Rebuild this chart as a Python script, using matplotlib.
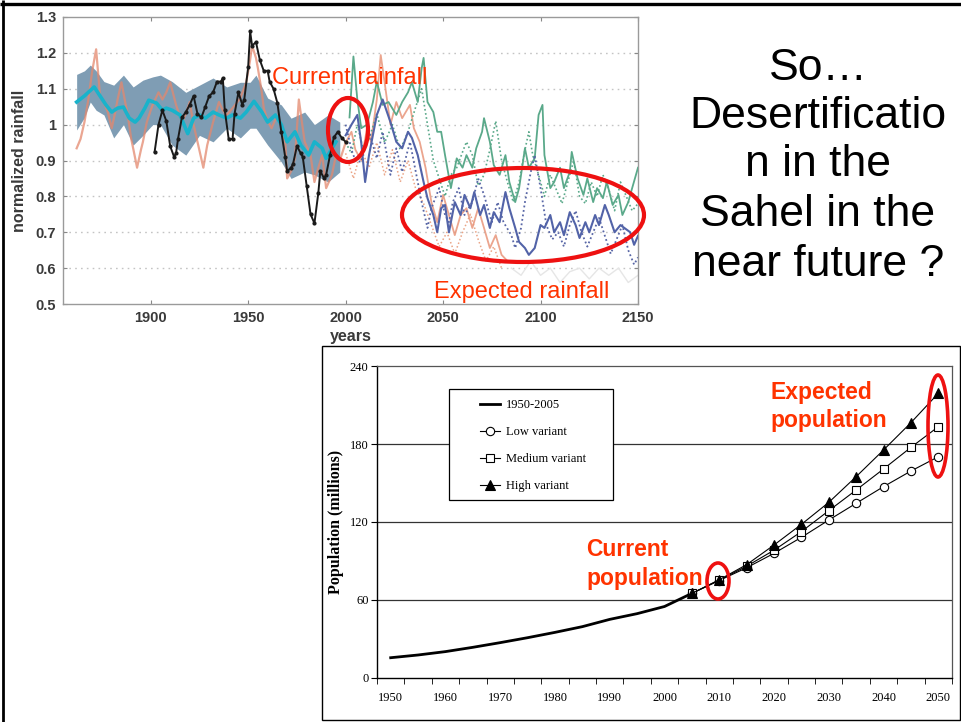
import numpy as np
import matplotlib
matplotlib.use("Agg")
import matplotlib.pyplot as plt
from matplotlib.patches import Ellipse, Rectangle

# ---------------- rainfall chart data ----------------
band_years = [1862, 1866, 1869, 1872, 1876, 1881, 1886, 1891, 1896, 1901, 1905, 1911,
              1918, 1925, 1932, 1939, 1946, 1951, 1954, 1960, 1967, 1972, 1979, 1984,
              1991, 1997]
band_upper = [1.14, 1.15, 1.166, 1.15, 1.12, 1.11, 1.138, 1.105, 1.124, 1.133, 1.138, 1.12,
              1.09, 1.11, 1.13, 1.105, 1.118, 1.118, 1.138, 1.074, 1.055, 1.018, 1.035, 1.0,
              1.027, 1.007]
band_lower = [0.985, 1.02, 1.063, 1.04, 1.027, 0.963, 1.0, 0.943, 0.97, 1.0, 1.0, 0.943,
              0.915, 0.97, 0.952, 0.99, 0.963, 0.99, 0.99, 0.943, 0.896, 0.85, 0.868, 0.86,
              0.84, 0.868]

mean_years = [1862, 1866, 1871, 1874, 1877, 1880, 1883, 1886, 1889, 1892, 1894, 1897, 1899,
              1903, 1906, 1908, 1911, 1915, 1919, 1922, 1925, 1928, 1932, 1935, 1939, 1942,
              1946, 1949, 1953, 1957, 1960, 1964, 1967, 1970, 1974, 1977, 1981, 1984, 1988,
              1990, 1993, 1995]
mean_vals = [1.063, 1.08, 1.105, 1.08, 1.055, 1.035, 1.046, 1.049, 1.018, 1.007, 1.018, 1.046,
             1.068, 1.06, 1.04, 1.046, 1.04, 1.027, 0.975, 1.018, 1.027, 1.018, 1.035, 1.027,
             1.018, 1.027, 1.018, 1.035, 1.065, 1.035, 1.007, 1.027, 1.0, 0.952, 0.98, 0.943,
             0.915, 0.952, 0.934, 0.906, 0.934, 0.952]

obs_years = [1902, 1904, 1906, 1908, 1910, 1912, 1913, 1914, 1916, 1918, 1920, 1922, 1924,
             1926, 1928, 1930, 1932, 1934, 1936, 1937, 1938, 1940, 1942, 1943, 1945, 1947,
             1948, 1950, 1951, 1952, 1954, 1956, 1958, 1960, 1961, 1963, 1965, 1967, 1969,
             1970, 1972, 1973, 1975, 1977, 1978, 1980, 1982, 1984, 1986, 1987, 1989, 1990,
             1992, 1994, 1996, 1998, 2000]
obs_vals = [0.924, 1.0, 1.04, 1.01, 0.94, 0.91, 0.92, 0.96, 1.02, 1.035, 1.055, 1.08, 1.03,
            1.02, 1.05, 1.08, 1.09, 1.12, 1.12, 1.13, 1.04, 0.96, 0.96, 1.03, 1.09, 1.055,
            1.07, 1.16, 1.26, 1.22, 1.23, 1.18, 1.15, 1.15, 1.12, 1.10, 1.06, 0.98, 0.91,
            0.87, 0.88, 0.89, 0.94, 0.92, 0.91, 0.83, 0.75, 0.725, 0.81, 0.87, 0.85, 0.86,
            0.915, 0.965, 0.98, 0.963, 0.952]

hsim_years = [1862, 1864, 1866, 1868, 1870, 1872, 1874, 1876, 1878, 1880, 1882, 1883, 1885,
              1887, 1888, 1890, 1891, 1893, 1895, 1896, 1898, 1900, 1901, 1904, 1906, 1908,
              1910, 1913, 1916, 1918, 1920, 1922, 1924, 1927, 1929, 1932, 1935, 1937, 1939,
              1942, 1946, 1949, 1951, 1952, 1954, 1955, 1957, 1958, 1960, 1962, 1965, 1967,
              1969, 1970, 1972, 1974, 1976, 1978, 1979, 1982, 1984, 1986, 1988, 1990, 1993,
              1995, 1997, 2000]
hsim_vals = [0.934, 0.96, 1.007, 1.07, 1.15, 1.21, 1.08, 1.06, 1.035, 0.99, 1.04, 1.07, 1.118,
             1.06, 1.035, 0.96, 0.934, 0.88, 0.93, 0.952, 1.007, 1.04, 1.055, 1.09, 1.07, 1.09,
             1.118, 1.055, 1.007, 1.03, 1.063, 1.0, 0.952, 0.88, 0.943, 1.007, 1.063, 1.04,
             1.027, 1.046, 1.074, 1.118, 1.18, 1.22, 1.186, 1.157, 1.09, 1.046, 1.01, 0.99,
             1.027, 0.99, 0.952, 0.85, 0.87, 0.906, 1.07, 0.99, 0.952, 0.915, 0.84, 0.88,
             0.915, 0.823, 0.86, 0.915, 0.9, 0.95]

green_years = [2002, 2004, 2006, 2008, 2011, 2014, 2016, 2019, 2022, 2026, 2029, 2032, 2034,
               2037, 2039, 2040, 2042, 2045, 2047, 2049, 2051, 2054, 2057, 2060, 2062, 2065,
               2067, 2070, 2071, 2074, 2076, 2079, 2082, 2084, 2087, 2089, 2092, 2094, 2097,
               2099, 2101, 2102, 2105, 2107, 2110, 2112, 2115, 2116, 2119, 2122, 2124, 2127,
               2129, 2132, 2134, 2137, 2140, 2142, 2145, 2147, 2150]
green_vals = [1.02, 1.19, 1.07, 0.99, 1.0, 1.063, 1.12, 1.055, 1.063, 1.027, 1.063, 1.09,
              1.118, 1.063, 1.157, 1.186, 1.063, 1.035, 0.98, 0.98, 0.915, 0.823, 0.906, 0.88,
              0.915, 0.88, 0.934, 0.98, 1.018, 0.952, 0.887, 0.86, 0.915, 0.84, 0.784, 0.823,
              0.934, 0.88, 0.906, 1.027, 1.055, 0.915, 0.823, 0.84, 0.88, 0.823, 0.868, 0.924,
              0.85, 0.804, 0.85, 0.784, 0.823, 0.795, 0.84, 0.776, 0.804, 0.748, 0.784, 0.823,
              0.88]

blue_years = [2000, 2003, 2006, 2008, 2010, 2012, 2016, 2019, 2023, 2026, 2029, 2032, 2034,
              2037, 2040, 2042, 2045, 2047, 2049, 2051, 2053, 2056, 2059, 2061, 2064, 2066,
              2069, 2071, 2074, 2076, 2079, 2082, 2084, 2087, 2089, 2092, 2094, 2097, 2100,
              2102, 2105, 2107, 2110, 2112, 2115, 2118, 2120, 2123, 2125, 2128, 2130, 2133,
              2135, 2138, 2141, 2143, 2146, 2148, 2150]
blue_vals = [0.97, 1.0, 1.027, 0.95, 0.84, 0.915, 1.027, 1.07, 1.007, 0.952, 0.934, 0.98,
             0.963, 0.915, 0.84, 0.795, 0.748, 0.7, 0.767, 0.776, 0.7, 0.784, 0.748, 0.804,
             0.767, 0.812, 0.748, 0.776, 0.712, 0.756, 0.728, 0.812, 0.767, 0.712, 0.673,
             0.656, 0.637, 0.656, 0.72, 0.712, 0.748, 0.7, 0.728, 0.692, 0.756, 0.72, 0.684,
             0.728, 0.7, 0.748, 0.72, 0.776, 0.748, 0.7, 0.72, 0.712, 0.7, 0.665, 0.69]

bluedot_years = [2000, 2003, 2005, 2008, 2012, 2016, 2019, 2023, 2026, 2029, 2033, 2036,
                 2039, 2042, 2044, 2048, 2051, 2053, 2055, 2058, 2061, 2065, 2068, 2071,
                 2075, 2078, 2081, 2085, 2087, 2090, 2092, 2095, 2097, 2100, 2103, 2106,
                 2109, 2112, 2115, 2118, 2121, 2124, 2127, 2130, 2133, 2136, 2139, 2142,
                 2145, 2148, 2150]
bluedot_vals = [1.0, 0.93, 0.90, 0.896, 0.98, 0.906, 0.98, 0.86, 0.934, 0.868, 0.952, 0.868,
                0.784, 0.712, 0.767, 0.823, 0.748, 0.728, 0.784, 0.823, 0.748, 0.784, 0.85,
                0.804, 0.728, 0.784, 0.728, 0.692, 0.656, 0.712, 0.784, 0.868, 0.915, 0.823,
                0.72, 0.68, 0.7, 0.66, 0.72, 0.76, 0.70, 0.66, 0.70, 0.74, 0.69, 0.64, 0.68,
                0.72, 0.65, 0.61, 0.63]

greendot_years = [2000, 2003, 2006, 2009, 2012, 2016, 2020, 2024, 2028, 2032, 2036, 2039,
                  2042, 2045, 2048, 2051, 2054, 2057, 2060, 2062, 2065, 2068, 2071, 2074,
                  2077, 2080, 2083, 2086, 2089, 2092, 2094, 2096, 2099, 2102, 2105, 2108,
                  2111, 2114, 2117, 2120, 2123, 2126, 2129, 2132, 2135, 2138, 2141, 2144,
                  2147, 2150]
greendot_vals = [0.95, 0.92, 1.0, 0.93, 0.96, 1.03, 0.95, 1.0, 0.93, 0.98, 1.05, 1.10, 1.0,
                 0.9, 0.85, 0.8, 0.86, 0.88, 0.924, 0.952, 0.915, 0.83, 0.86, 0.93, 1.01, 0.9,
                 0.84, 0.784, 0.84, 0.93, 0.98, 0.915, 0.86, 0.8, 0.86, 0.82, 0.78, 0.84, 0.9,
                 0.8, 0.78, 0.84, 0.8, 0.86, 0.82, 0.76, 0.84, 0.8, 0.76, 0.78]

salmon_years = [2000, 2003, 2005, 2008, 2011, 2013, 2016, 2018, 2020, 2023, 2026, 2029, 2033,
                2035, 2038, 2041, 2044, 2047, 2050, 2053, 2056, 2059, 2062, 2065, 2068, 2071,
                2074, 2077, 2080, 2083]
salmon_vals = [0.95, 0.98, 0.93, 0.90, 0.99, 0.952, 1.07, 1.194, 1.118, 1.0, 1.063, 1.018,
               1.055, 0.99, 0.952, 0.88, 0.784, 0.728, 0.804, 0.748, 0.692, 0.748, 0.767,
               0.712, 0.767, 0.712, 0.656, 0.692, 0.637, 0.62]

salmondot_years = [2000, 2004, 2008, 2012, 2016, 2020, 2024, 2028, 2032, 2036, 2040, 2044,
                   2048, 2052, 2056, 2060, 2064, 2068, 2072, 2076, 2080]
salmondot_vals = [0.92, 0.85, 0.93, 0.88, 0.95, 0.86, 0.93, 0.84, 0.9, 0.82, 0.78, 0.72,
                  0.66, 0.7, 0.64, 0.7, 0.75, 0.68, 0.62, 0.66, 0.6]

gray_years = [2085, 2090, 2095, 2100, 2105, 2110, 2115, 2120, 2125, 2130, 2135, 2140, 2145,
              2150]
gray_vals = [0.6, 0.58, 0.62, 0.58, 0.6, 0.56, 0.59, 0.6, 0.57, 0.6, 0.58, 0.6, 0.56, 0.58]

rain_xticks = [1900, 1950, 2000, 2050, 2100, 2150]
rain_yticks = [0.5, 0.6, 0.7, 0.8, 0.9, 1.0, 1.1, 1.2, 1.3]
rain_yticklabels = ["0.5", "0.6", "0.7", "0.8", "0.9", "1", "1.1", "1.2", "1.3"]

# ---------------- population chart data ----------------
hist_years = [1950, 1955, 1960, 1965, 1970, 1975, 1980, 1985, 1990, 1995, 2000, 2005]
hist_pop = [15.6, 17.7, 20.3, 23.6, 27.2, 31.0, 35.1, 39.5, 45.1, 49.5, 55.0, 65.1]
proj_years = [2005, 2010, 2015, 2020, 2025, 2030, 2035, 2040, 2045, 2050]
low_pop = [65.1, 75.0, 84.8, 95.9, 108.2, 121.5, 134.4, 147.2, 159.2, 170.2]
med_pop = [65.1, 75.3, 86.0, 98.3, 112.6, 128.7, 144.6, 160.8, 177.4, 193.3]
high_pop = [65.1, 75.6, 87.2, 102.3, 118.2, 135.1, 154.9, 175.4, 196.4, 219.0]
pop_xticks = [1950, 1960, 1970, 1980, 1990, 2000, 2010, 2020, 2030, 2040, 2050]
pop_yticks = [0, 60, 120, 180, 240]
legend_labels = ["1950-2005", "Low variant", "Medium variant", "High variant"]

# ---------------- figure ----------------
W, H = 961, 722
fig = plt.figure(figsize=(W / 100, H / 100), dpi=100)
fig.patch.set_facecolor("white")

def fbox(x0, y0, x1, y1):
    return [x0 / W, 1 - y1 / H, (x1 - x0) / W, (y1 - y0) / H]

SANS = ["Liberation Sans", "DejaVu Sans"]
SERIF = ["Liberation Serif", "DejaVu Serif"]

# ----- rainfall axes -----
ax = fig.add_axes(fbox(63, 17, 638, 304))
ax.set_xlim(1855, 2150)
ax.set_ylim(0.5, 1.3)
for y in rain_yticks[1:-1]:
    ax.axhline(y, color="#c4c4c4", lw=1.0, ls=(0, (1.2, 3)), zorder=0)

ax.fill_between(band_years, band_lower, band_upper, color="#7f9db4", lw=0, zorder=1)
ax.plot(hsim_years, hsim_vals, color="#e4886e", lw=1.6, alpha=0.75, zorder=2)
ax.plot(mean_years, mean_vals, color="#19b3cb", lw=2.6, zorder=3)
ax.plot(obs_years, obs_vals, color="#1a1a1a", lw=1.4, marker="o", ms=2.0, zorder=5)

ax.plot(gray_years, gray_vals, color="#e6e6e6", lw=1.0, zorder=1)
ax.plot(salmondot_years, salmondot_vals, color="#eaa486", lw=1.1, ls=(0, (1, 1.5)), zorder=2)
ax.plot(salmon_years, salmon_vals, color="#e8957a", lw=1.3, alpha=0.85, zorder=2)
ax.plot(greendot_years, greendot_vals, color="#5aa98a", lw=1.2, ls=(0, (1, 1.5)), zorder=2)
ax.plot(green_years, green_vals, color="#5aa98a", lw=1.3, zorder=3)
ax.plot(bluedot_years, bluedot_vals, color="#5866a6", lw=1.3, ls=(0, (1, 1.5)), zorder=3)
ax.plot(blue_years, blue_vals, color="#5263a8", lw=1.5, zorder=4)

ax.set_xticks(rain_xticks)
ax.set_yticks(rain_yticks)
ax.set_yticklabels(rain_yticklabels)
ax.tick_params(direction="in", length=3, color="#888888", top=True, right=True,
               labelsize=10.5, labelcolor="#3a3a3a", pad=5)
for lab in ax.get_xticklabels() + ax.get_yticklabels():
    lab.set_fontweight("bold")
    lab.set_family(SANS)
for s in ax.spines.values():
    s.set_color("#9a9a9a")
    s.set_linewidth(1.0)
ax.set_ylabel("normalized rainfall", fontsize=11.5, fontweight="bold", color="#3a3a3a",
              family=SANS, labelpad=6)
ax.set_xlabel("years", fontsize=11.5, fontweight="bold", color="#3a3a3a", family=SANS,
              labelpad=3)

# ----- population axes -----
ax2 = fig.add_axes(fbox(377, 366, 952, 678))
ax2.set_xlim(1947.5, 2052.5)
ax2.set_ylim(0, 240)
for y in pop_yticks[1:-1]:
    ax2.axhline(y, color="#333333", lw=0.9, zorder=0)
ax2.plot(hist_years, hist_pop, color="black", lw=2.0, zorder=3, label=legend_labels[0])
ax2.plot(proj_years, low_pop, color="black", lw=0.8, marker="o", ms=6, mfc="white",
         mec="black", mew=0.8, zorder=4, label=legend_labels[1])
ax2.plot(proj_years, med_pop, color="black", lw=0.8, marker="s", ms=6, mfc="white",
         mec="black", mew=0.8, zorder=4, label=legend_labels[2])
ax2.plot(proj_years, high_pop, color="black", lw=0.8, marker="^", ms=7, mfc="black",
         mec="black", mew=0.8, zorder=5, label=legend_labels[3])

ax2.set_xticks(pop_xticks)
ax2.set_xticklabels([str(v) for v in pop_xticks])
ax2.set_xticks(np.arange(1947.5, 2053, 5), minor=True)
ax2.tick_params(axis="x", which="major", length=0, pad=10, labelsize=9)
ax2.tick_params(axis="x", which="minor", length=4, direction="out", color="black")
ax2.set_yticks(pop_yticks)
ax2.tick_params(axis="y", length=4, direction="out", labelsize=9, pad=2)
for lab in ax2.get_xticklabels() + ax2.get_yticklabels():
    lab.set_family(SERIF)
for side in ["left", "bottom"]:
    ax2.spines[side].set_color("black")
    ax2.spines[side].set_linewidth(1.0)
for side in ["top", "right"]:
    ax2.spines[side].set_color("#555555")
    ax2.spines[side].set_linewidth(0.9)
ax2.set_ylabel("Population (millions)", fontsize=11.5, fontweight="bold", family=SERIF,
               labelpad=4)

ax2.add_patch(Rectangle((0.125, 0.5705), 0.285, 0.3555, transform=ax2.transAxes,
                        facecolor="white", edgecolor="black", lw=0.9, zorder=6))
leg = ax2.legend(loc="upper left", bbox_to_anchor=(0.179, 0.893), frameon=False,
                 borderpad=0, borderaxespad=0, labelspacing=1.2, handlelength=1.6,
                 handletextpad=0.45, prop={"family": SERIF, "size": 9})
leg.set_zorder(7)

# ----- slide overlay: annotations, frames, title text -----
ov = fig.add_axes([0, 0, 1, 1], zorder=10)
ov.set_xlim(0, W)
ov.set_ylim(H, 0)
ov.axis("off")
ov.patch.set_alpha(0)

ov.plot([0, W], [4, 4], color="black", lw=2.4, solid_capstyle="butt")
ov.plot([3, 3], [0, H], color="black", lw=2.0, solid_capstyle="butt")
ov.add_patch(Rectangle((322, 346), 638, 374, fill=False, edgecolor="black", lw=1.0))

red_txt = "#ff3300"
ring = "#ee1111"
ov.text(350, 78, "Current rainfall", color=red_txt, fontsize=17, family=SANS,
        ha="center", va="center")
ov.text(522, 292, "Expected rainfall", color=red_txt, fontsize=17, family=SANS,
        ha="center", va="center")
ov.add_patch(Ellipse((348, 130), 40, 64, fill=False, edgecolor=ring, lw=3.0))
ov.add_patch(Ellipse((523, 215), 242, 94, fill=False, edgecolor=ring, lw=3.0))

ov.text(770, 392, "Expected", color=red_txt, fontsize=16.5, fontweight="bold", family=SANS,
        ha="left", va="center")
ov.text(770, 420, "population", color=red_txt, fontsize=16.5, fontweight="bold",
        family=SANS, ha="left", va="center")
ov.text(586, 549, "Current", color=red_txt, fontsize=16.5, fontweight="bold", family=SANS,
        ha="left", va="center")
ov.text(586, 578, "population", color=red_txt, fontsize=16.5, fontweight="bold",
        family=SANS, ha="left", va="center")
ov.add_patch(Ellipse((718, 581), 22, 36, fill=False, edgecolor=ring, lw=2.6))
ov.add_patch(Ellipse((938, 426), 20, 102, fill=False, edgecolor=ring, lw=2.6))

title_lines = ["So…", "Desertificatio", "n in the", "Sahel in the", "near future ?"]
title_y = [68, 117, 165, 214, 265]
for t, yy in zip(title_lines, title_y):
    ov.text(818, yy, t, fontsize=32, family=SANS, color="black", ha="center", va="center")

fig.savefig("out.png", dpi=100)
